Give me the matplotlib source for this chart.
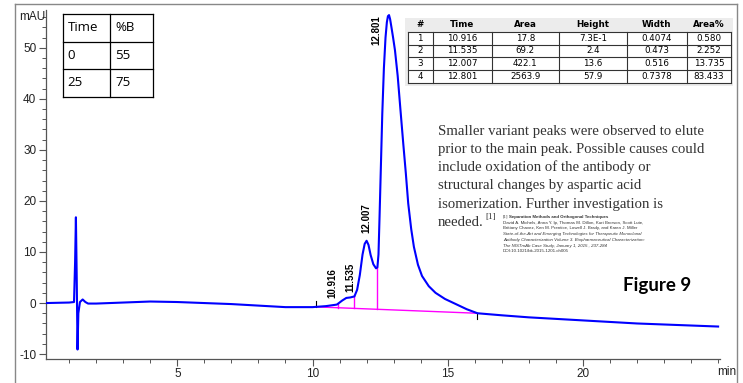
import matplotlib
matplotlib.use("Agg")
import matplotlib.pyplot as plt
import numpy as np
from matplotlib.patches import Rectangle
from matplotlib.lines import Line2D
from matplotlib.transforms import Affine2D
from matplotlib.ticker import MultipleLocator

plt.rcParams["axes.unicode_minus"] = False

# chromatogram trace, minutes vs mAU
time_min = [0.14, 1.0, 1.18, 1.22, 1.25, 1.28, 1.31, 1.34, 1.40, 1.50, 1.60, 1.70,
            2.0, 3.0, 4.0, 5.0, 6.0, 7.0, 8.0, 9.0, 10.0, 10.5, 10.9, 11.1, 11.25,
            11.4, 11.55, 11.65, 11.75, 11.85, 11.93, 12.0, 12.07, 12.15, 12.25,
            12.35, 12.40, 12.44, 12.48, 12.53, 12.58, 12.64, 12.70, 12.75, 12.79,
            12.83, 12.87, 12.92, 12.98, 13.05, 13.15, 13.25, 13.36, 13.45, 13.54,
            13.65, 13.75, 13.9, 14.05, 14.3, 14.55, 14.9, 15.3, 15.7, 16.1, 17.0,
            18.0, 19.0, 20.0, 21.0, 22.0, 23.0, 24.0, 25.0]
signal_mau = [0.0, 0.1, 0.2, 8.0, 16.8, 5.0, -9.1, -2.0, 0.2, 0.7, 0.2, -0.1,
              -0.1, 0.1, 0.3, 0.2, 0.0, -0.2, -0.5, -0.8, -0.8, -0.6, -0.3, 0.5, 1.0,
              1.1, 1.3, 2.6, 5.5, 9.5, 11.6, 12.2, 11.4, 9.4, 7.6,
              6.8, 7.0, 9.5, 17.0, 27.0, 37.0, 46.0, 52.0, 55.0, 56.2,
              56.4, 55.6, 54.0, 52.0, 49.5, 44.5, 38.0, 31.0, 25.5, 19.5,
              14.5, 11.0, 7.5, 5.3, 3.3, 2.0, 0.8, -0.2, -1.2, -2.0, -2.4,
              -2.8, -3.1, -3.4, -3.7, -4.0, -4.2, -4.4, -4.6]

# integration events
base_start, base_end = 10.13, 16.1
drop_times = [10.95, 11.55, 12.40]

# peak table
peak_no = ["1", "2", "3", "4"]
peak_time = ["10.916", "11.535", "12.007", "12.801"]
peak_area = ["17.8", "69.2", "422.1", "2563.9"]
peak_height = ["7.3E-1", "2.4", "13.6", "57.9"]
peak_width = ["0.4074", "0.473", "0.516", "0.7378"]
peak_area_pct = ["0.580", "2.252", "13.735", "83.433"]

# gradient program
grad_time = ["0", "25"]
grad_b = ["55", "75"]

note_lines = [
    "Smaller variant peaks were observed to elute",
    "prior to the main peak. Possible causes could",
    "include oxidation of the antibody or",
    "structural changes by aspartic acid",
    "isomerization. Further investigation is",
    "needed.",
]
ref_lines = [
    ("Separation Methods and Orthogonal Techniques", "bold"),
    ("David A. Michels, Anna Y. Ip, Thomas M. Dillon, Kurt Brorson, Scott Lute,", "normal"),
    ("Brittany Chavez, Ken M. Prentice, Lowell J. Brady, and Karen J. Miller", "normal"),
    ("State-of-the-Art and Emerging Technologies for Therapeutic Monoclonal", "italic"),
    ("Antibody Characterization Volume 3. Biopharmaceutical Characterization:", "italic"),
    ("The NISTmAb Case Study, January 1, 2015 , 237-284", "italic"),
    ("DOI:10.1021/bk-2015-1201.ch005", "normal"),
]

W, H = 743, 383
fig = plt.figure(figsize=(W / 100, H / 100), dpi=100)
px = Affine2D().scale(1 / W, -1 / H).translate(0, 1) + fig.transFigure

ax = fig.add_axes([46 / W, (H - 358.7) / H, 674 / W, 348.7 / H])
ax.set_xlim(0.144, 25.07)
ax.set_ylim(-10.9, 57.4)
for s in ["top", "right"]:
    ax.spines[s].set_visible(False)
for s in ["left", "bottom"]:
    ax.spines[s].set_color("#555555")
    ax.spines[s].set_linewidth(0.9)
ax.xaxis.set_major_locator(MultipleLocator(5))
ax.xaxis.set_minor_locator(MultipleLocator(1))
ax.yaxis.set_major_locator(MultipleLocator(10))
ax.yaxis.set_minor_locator(MultipleLocator(2))
ax.tick_params(which="major", length=5, width=0.8, color="#555555",
               labelsize=8.5, labelcolor="#222222", pad=2)
ax.tick_params(which="minor", length=3, width=0.7, color="#555555")
ax.set_xticks([5, 10, 15, 20])
for lbl in ax.get_xticklabels() + ax.get_yticklabels():
    lbl.set_family("Liberation Sans")

t = np.array(time_min)
y = np.array(signal_mau)
ax.plot(t, y, color="#0000ff", lw=1.5, zorder=3, solid_joinstyle="round")

# baseline and drop lines
b0, b1 = np.interp([base_start, base_end], t, y)
ax.plot([base_start, base_end], [b0, b1], color="#ff00ff", lw=1.0, zorder=2)
for dt in drop_times:
    yb = b0 + (b1 - b0) * (dt - base_start) / (base_end - base_start)
    ax.plot([dt, dt], [yb, np.interp(dt, t, y)], color="#ff00ff", lw=1.0, zorder=2)
ax.plot([base_start, base_start], [b0, b0 + 1.2], color="k", lw=0.8)
ax.plot([base_end, base_end], [b1, b1 - 1.2], color="k", lw=0.8)

# retention time labels
lbl_dx = [-0.17, -0.12, -0.03, -0.45]
lbl_y = [0.9, 2.1, 13.8, 50.5]
for name, dx, ly in zip(peak_time, lbl_dx, lbl_y):
    ax.text(float(name) + dx, ly, name, rotation=90, ha="center", va="bottom",
            fontsize=7, fontweight="bold", family="Liberation Sans")

fig.text(45, 17, "mAU", transform=px, ha="right", va="center", fontsize=8.5,
         family="Liberation Sans", color="#222222")
fig.text(727, 372, "min", transform=px, ha="center", va="center", fontsize=8.5,
         family="Liberation Sans", color="#222222")

# outer frame
for xs, ys in [([15, 15], [4, 383]), ([15, 737], [4, 4]), ([737, 737], [4, 383])]:
    fig.add_artist(Line2D(xs, ys, transform=px, color="#888888", lw=1.0))

# gradient table
gx = [62.7, 110, 152.7]
gy = [14, 41.7, 69, 96.7]
for xx in gx:
    fig.add_artist(Line2D([xx, xx], [gy[0], gy[-1]], transform=px, color="k", lw=0.9))
for yy in gy:
    fig.add_artist(Line2D([gx[0], gx[-1]], [yy, yy], transform=px, color="k", lw=0.9))
grad_rows = [("Time", "%B")] + list(zip(grad_time, grad_b))
for r, (a, b) in enumerate(grad_rows):
    yc = (gy[r] + gy[r + 1]) / 2
    fig.text(gx[0] + 5, yc, a, transform=px, va="center", fontsize=9.5, family="Open Sans")
    fig.text(gx[1] + 5, yc, b, transform=px, va="center", fontsize=9.5, family="Open Sans")

# peak table
cx = [407.7, 432.7, 491.7, 559, 626.7, 686.7, 731]
ry = [18, 31.7, 44.5, 57.2, 70, 82.7]
fig.add_artist(Rectangle((405, 18), 328, 68, transform=px, facecolor="#ececec",
                         edgecolor="none"))
fig.add_artist(Rectangle((cx[0], ry[1]), cx[-1] - cx[0], ry[-1] - ry[1], transform=px,
                         facecolor="white", edgecolor="none"))
for xx in cx:
    fig.add_artist(Line2D([xx, xx], [ry[1], ry[-1]], transform=px, color="#333333", lw=0.8))
for yy in ry[1:]:
    fig.add_artist(Line2D([cx[0], cx[-1]], [yy, yy], transform=px, color="#333333", lw=0.8))
header = ["#", "Time", "Area", "Height", "Width", "Area%"]
cols = [peak_no, peak_time, peak_area, peak_height, peak_width, peak_area_pct]
for c in range(6):
    xc = (cx[c] + cx[c + 1]) / 2
    fig.text(xc, (ry[0] + ry[1]) / 2, header[c], transform=px, ha="center", va="center",
             fontsize=6.3, fontweight="bold", family="Liberation Sans Narrow")
    for r, val in enumerate(cols[c]):
        fig.text(xc, (ry[r + 1] + ry[r + 2]) / 2, val, transform=px, ha="center",
                 va="center", fontsize=6.3, family="Liberation Sans Narrow")

# comment and reference
for i, line in enumerate(note_lines):
    fig.text(438, 134.5 + 18.3 * i, line, transform=px, va="baseline", ha="left",
             fontsize=10.6, family="Liberation Serif", color="#333333")
fig.text(485, 218.5, "[1]", transform=px, va="baseline", fontsize=6.5,
         family="Liberation Serif", color="#333333")
fig.text(503, 219, "[1]", transform=px, va="bottom", fontsize=3.3,
         family="Liberation Serif", color="#333333")
for i, (line, style) in enumerate(ref_lines):
    kw = {"fontweight": "bold"} if style == "bold" else {}
    if style == "italic":
        kw["fontstyle"] = "italic"
    fig.text(509 if i == 0 else 503, 219 + 5.7 * i, line, transform=px, va="bottom",
             fontsize=3.2, family="Liberation Sans", color="#333333", **kw)

fig.text(657, 285, "Figure 9", transform=px, ha="center", va="center", fontsize=13.5,
         fontweight="bold", family="Lato")

fig.savefig("out.png", dpi=100)
